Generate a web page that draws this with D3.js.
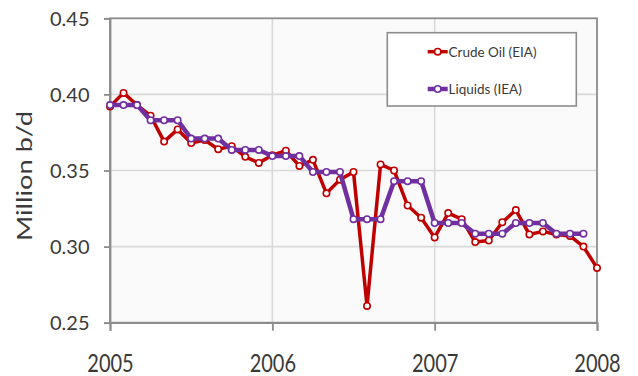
<!DOCTYPE html>
<html>
<head>
<meta charset="utf-8">
<script src="https://cdn.jsdelivr.net/npm/d3@7/dist/d3.min.js"></script>
<style>
  html, body { margin: 0; padding: 0; background: #ffffff; }
  svg { display: block; }
  text { font-family: Lato, "Liberation Sans", Arial, sans-serif; fill: #3a3a3a; }
</style>
</head>
<body>
<svg id="chart" width="638" height="376"></svg>
<script>
// ---- data (monthly, Jan 2005 onward) ----
const yearLabels = ["2005", "2006", "2007", "2008"];
const yTicks = [0.25, 0.30, 0.35, 0.40, 0.45];
const seriesNames = ["Crude Oil (EIA)", "Liquids (IEA)"];
// Crude Oil (EIA): Jan 2005 .. Jan 2008
const crudeOil = [
  0.392, 0.401, 0.393, 0.386, 0.369, 0.377, 0.368, 0.370, 0.364, 0.366, 0.359, 0.355,
  0.360, 0.363, 0.353, 0.357, 0.335, 0.344, 0.349, 0.261, 0.354, 0.350, 0.327, 0.319,
  0.306, 0.322, 0.318, 0.303, 0.304, 0.316, 0.324, 0.308, 0.310, 0.308, 0.307, 0.300,
  0.286
];
// Liquids (IEA): Jan 2005 .. Dec 2007
const liquids = [
  0.393, 0.393, 0.393, 0.383, 0.383, 0.383, 0.371, 0.371, 0.371, 0.3635, 0.3635, 0.3635,
  0.3595, 0.3595, 0.3595, 0.349, 0.349, 0.349, 0.318, 0.318, 0.318, 0.343, 0.343, 0.343,
  0.3155, 0.3155, 0.3155, 0.3085, 0.3085, 0.3085, 0.3155, 0.3155, 0.3155, 0.3085, 0.3085, 0.3085
];

const colors = ["#c00000", "#7030a0"];
const widths = [3.5, 4.5];
const FONT = "Lato, 'Liberation Sans', Arial, sans-serif";

const svg = d3.select("#chart");
const L = 110, R = 597, T = 18.3, B = 322.7;

// month index scale: 0 = Jan 2005, 36 = Jan 2008
const x = d3.scaleLinear().domain([0, 36]).range([L, R]);
const y = d3.scaleLinear().domain([0.25, 0.45]).range([B, T]);
const yearTicks = yearLabels.map((d, i) => i * 12);

// plot background
svg.append("rect")
  .attr("x", L).attr("y", T).attr("width", R - L).attr("height", B - T)
  .attr("fill", "#fafafa");

// gridlines
svg.append("g").selectAll("line")
  .data(yTicks.filter(v => v > 0.25 && v < 0.45))
  .join("line")
  .attr("x1", L).attr("x2", R)
  .attr("y1", d => y(d)).attr("y2", d => y(d))
  .attr("stroke", "#d9d9d9").attr("stroke-width", 1.6);
svg.append("g").selectAll("line")
  .data(yearTicks.filter(v => v > 0 && v < 36))
  .join("line")
  .attr("x1", d => x(d)).attr("x2", d => x(d))
  .attr("y1", T).attr("y2", B)
  .attr("stroke", "#d9d9d9").attr("stroke-width", 1.6);

// border
svg.append("rect")
  .attr("x", L).attr("y", T).attr("width", R - L).attr("height", B - T)
  .attr("fill", "none").attr("stroke", "#8c8c8c").attr("stroke-width", 1.8);

// y axis
const gy = svg.append("g").attr("transform", `translate(${L},0)`)
  .call(d3.axisLeft(y).tickValues(yTicks).tickFormat(d3.format(".2f")).tickSize(6).tickPadding(14.5));
gy.select(".domain").attr("stroke", "#8c8c8c").attr("stroke-width", 1.8);
gy.selectAll(".tick line").attr("stroke", "#8c8c8c").attr("stroke-width", 1.8);
gy.selectAll(".tick text")
  .attr("font-size", 20).attr("dy", "0.36em")
  .attr("font-family", FONT).attr("fill", "#3a3a3a");

// x axis
const gx = svg.append("g").attr("transform", `translate(0,${B})`)
  .call(d3.axisBottom(x).tickValues(yearTicks).tickFormat((d, i) => yearLabels[i]).tickSize(8));
gx.select(".domain").attr("stroke", "#8c8c8c").attr("stroke-width", 1.8);
gx.selectAll(".tick line").attr("stroke", "#8c8c8c").attr("stroke-width", 1.8);
gx.selectAll(".tick text")
  .attr("font-size", 20).attr("y", 0).attr("dy", 0)
  .attr("transform", "translate(0,49) scale(1,1.28)")
  .attr("font-family", FONT).attr("fill", "#3a3a3a");

// y axis title
svg.append("text")
  .attr("transform", "translate(32,176) rotate(-90) scale(1.3,1)")
  .attr("text-anchor", "middle")
  .attr("font-size", 21)
  .text("Million b/d");

// series
const line = d3.line().x((d, i) => x(i)).y(d => y(d));
[crudeOil, liquids].forEach((data, k) => {
  svg.append("path")
    .datum(data)
    .attr("d", line)
    .attr("fill", "none")
    .attr("stroke", colors[k])
    .attr("stroke-width", widths[k])
    .attr("stroke-linejoin", "round");
  svg.append("g").selectAll("circle")
    .data(data)
    .join("circle")
    .attr("cx", (d, i) => x(i)).attr("cy", d => y(d))
    .attr("r", 3.2)
    .attr("fill", "#ffffff")
    .attr("stroke", colors[k]).attr("stroke-width", 1.6);
});

// legend
svg.append("rect")
  .attr("x", 387.3).attr("y", 32.7).attr("width", 189).attr("height", 73.3)
  .attr("fill", "#ffffff").attr("stroke", "#8c8c8c").attr("stroke-width", 1.6);
const legY = [51.7, 89];
seriesNames.forEach((name, k) => {
  const g = svg.append("g").attr("transform", `translate(0,${legY[k]})`);
  g.append("line").attr("x1", 427.7).attr("x2", 447.7).attr("y1", 0).attr("y2", 0)
    .attr("stroke", colors[k]).attr("stroke-width", widths[k]);
  g.append("circle").attr("cx", 437.7).attr("cy", 0).attr("r", 3.2)
    .attr("fill", "#ffffff").attr("stroke", colors[k]).attr("stroke-width", 1.6);
  g.append("text").attr("x", 448.5).attr("y", 0).attr("dy", "0.36em")
    .attr("font-size", 13.5).text(name);
});
</script>
</body>
</html>
